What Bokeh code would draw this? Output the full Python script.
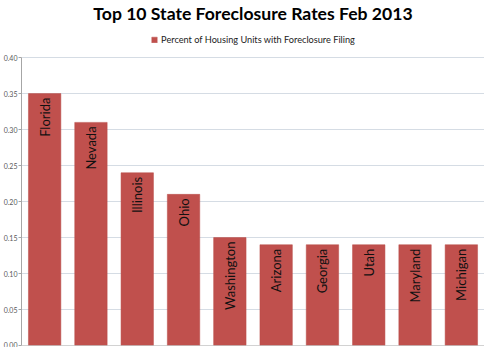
import math
from bokeh.plotting import figure
from bokeh.models import ColumnDataSource, Legend, LegendItem, NumeralTickFormatter, FixedTicker, Span
from bokeh.core.properties import value
from bokeh.embed import file_html
from bokeh.resources import INLINE

states = ["Florida", "Nevada", "Illinois", "Ohio", "Washington",
          "Arizona", "Georgia", "Utah", "Maryland", "Michigan"]
rates = [0.35, 0.31, 0.24, 0.21, 0.15, 0.14, 0.14, 0.14, 0.14, 0.14]
y_ticks = [0.0, 0.05, 0.10, 0.15, 0.20, 0.25, 0.30, 0.35, 0.40]
series_name = "Percent of Housing Units with Foreclosure Filing"
title_text = "Top 10 State Foreclosure Rates Feb 2013"

src = ColumnDataSource(dict(state=states, rate=rates))

p = figure(x_range=states, y_range=(0, 0.4474), width=484, height=347,
           output_backend="svg", toolbar_location=None,
           min_border_left=0, min_border_right=0, min_border_bottom=2, min_border_top=0)

p.title.text = title_text
p.title.align = "center"
p.title.text_font = "Lato"
p.title.text_font_size = "17.6px"
p.title.text_font_style = "bold"
p.title.text_color = "#000000"
p.title.standoff = 0

bars = p.vbar(x="state", top="rate", width=0.7, source=src,
              fill_color="#C0504D", line_color="#B84C49", line_width=0.5)

p.text(x="state", y="rate", text="state", source=src, angle=math.pi / 2,
       text_align="right", text_baseline="middle", y_offset=4,
       text_font=value("Lato"), text_font_size="13px", text_color="#111111")

legend = Legend(items=[LegendItem(label=series_name, renderers=[bars])],
                orientation="horizontal", location="top_center",
                label_text_font="Lato", label_text_font_size="9.2px",
                label_text_color="#222222", glyph_width=7, glyph_height=7,
                label_standoff=4, padding=2, margin=11, spacing=0,
                border_line_color=None, background_fill_alpha=0)
p.add_layout(legend)

p.yaxis.ticker = FixedTicker(ticks=y_ticks)
p.yaxis.bounds = (0, 0.4)
p.yaxis.formatter = NumeralTickFormatter(format="0.00")
p.yaxis.major_label_text_font = "Lato"
p.yaxis.major_label_text_font_size = "7px"
p.yaxis.major_label_text_color = "#595959"
p.yaxis.axis_line_color = "#A6A6A6"
p.yaxis.major_tick_line_color = "#A6A6A6"
p.yaxis.major_tick_out = 3
p.yaxis.major_tick_in = 0
p.yaxis.minor_tick_line_color = None
p.yaxis.major_label_standoff = 1

p.xaxis.visible = False
p.add_layout(Span(location=0, dimension="width", line_color="#A6A6A6", line_width=1))

p.xgrid.grid_line_color = None
p.ygrid.grid_line_color = "#D5DCE4"
p.ygrid.grid_line_width = 1
p.outline_line_color = None
p.x_range.range_padding = 0.0

open("out.html", "w").write(file_html(p, INLINE))
